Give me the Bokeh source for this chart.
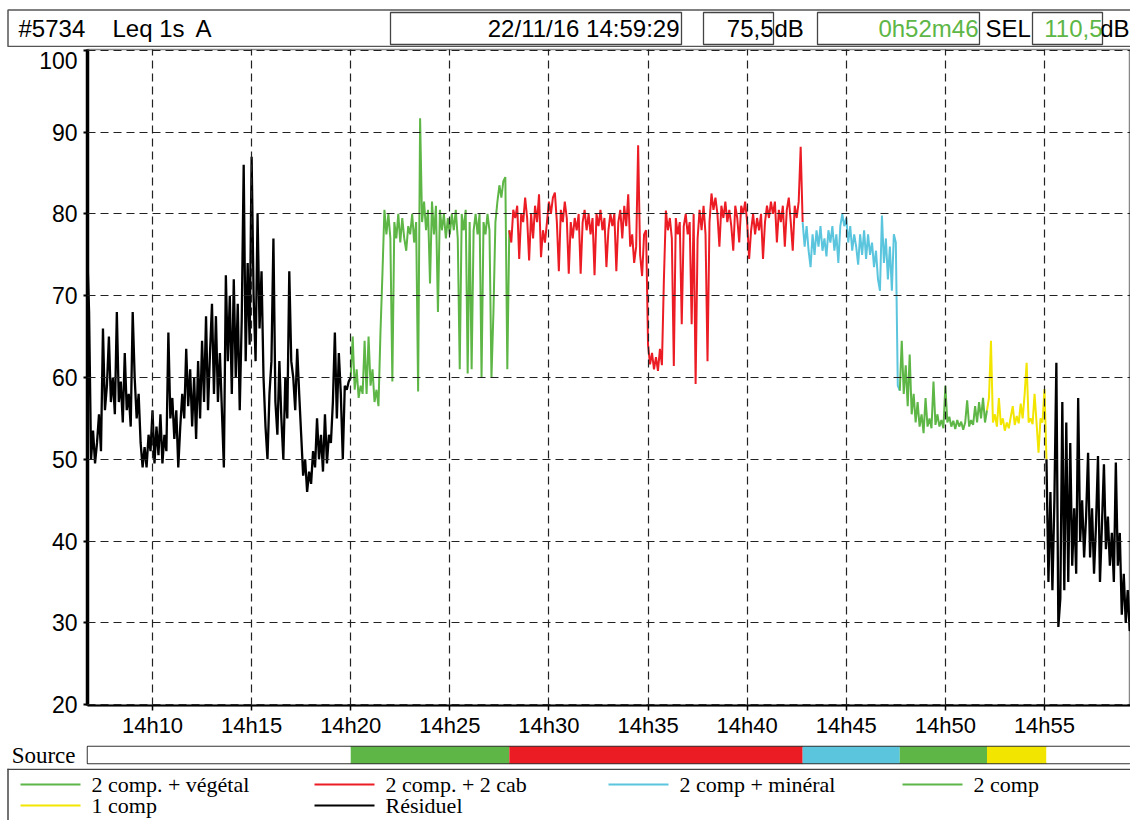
import numpy as np
from bokeh.plotting import figure
from bokeh.layouts import column, row
from bokeh.models import Range1d, FactorRange, FixedTicker
from bokeh.core.properties import value
from bokeh.embed import file_html
from bokeh.resources import INLINE

# ---------------- data ----------------
header_id = "#5734"
header_measure = "Leq 1s"
header_weight = "A"
header_datetime = "22/11/16 14:59:29"
header_level = "75,5"
header_unit = "dB"
header_duration = "0h52m46"
header_sel_label = "SEL"
header_sel = "110,5"

# time in minutes after 14h00
tick_values = [10, 15, 20, 25, 30, 35, 40, 45, 50, 55]
tick_labels = ["14h10", "14h15", "14h20", "14h25", "14h30", "14h35", "14h40", "14h45", "14h50", "14h55"]
y_ticks = [20, 30, 40, 50, 60, 70, 80, 90, 100]

sample_step = 0.1  # minutes between plotted samples

segment_sources = ["Résiduel", "2 comp. + végétal", "2 comp. + 2 cab", "2 comp + minéral",
                   "2 comp", "1 comp", "Résiduel"]
segment_starts = [6.7, 20.0, 28.0, 42.8, 47.7, 52.1, 55.1]

residuel_1 = [76, 68, 50, 53.5, 49.5, 52, 55.5, 51, 66, 56,
              59, 65, 57, 60, 55.5, 68, 57, 59.5, 54.5, 63,
              56, 58, 54, 68, 60, 55, 58, 52, 49, 51.5,
              49, 53, 51, 56, 49.5, 54, 50.5, 55.5, 49.5, 53,
              51, 65.5, 55, 57.5, 52.5, 56, 49, 54, 58, 55,
              63.5, 56.5, 61, 54, 60, 52.5, 62, 55, 64.5, 57,
              67.5, 56, 63, 69, 58, 67.5, 57, 63, 56, 49,
              72.5, 62, 70, 58, 72, 60, 69, 56, 67, 86,
              62, 74, 64, 87, 70, 62, 80, 66, 73, 60,
              54, 50, 58, 62, 77, 57, 53, 62, 55, 50,
              60, 55, 73, 62, 60, 56, 63.5, 58, 53, 48,
              50, 46, 48.5, 47, 51, 49, 55, 50, 53, 48.5,
              55.5, 49.5, 53, 52, 57, 65.5, 55, 63, 58, 50,
              59, 58.5, 59.5, 60]
vegetal = [60, 65, 58.5, 61, 57.5, 59, 58, 64.5, 58, 65,
           59, 61, 57, 58.5, 56.5, 65.5, 72.7, 80.5, 77.5, 80,
           77, 59.5, 79, 77, 80, 76.5, 79.5, 77, 75.5, 78.5,
           77.5, 80, 76.5, 79, 58.3, 91.7, 79, 81.5, 78, 80.5,
           71.5, 81.5, 77.5, 81, 68, 80.5, 78, 80, 77, 79.5,
           77.5, 80, 78, 80.5, 77, 61, 80, 78, 80.5, 60.5,
           79, 61, 78, 80, 77.5, 80, 60, 79, 77.5, 80,
           78, 60, 68, 79, 81.5, 83.5, 82, 84, 84.5, 61,
           78]
deux_cab = [78, 76.5, 80.5, 79.5, 81, 74.5, 80, 79, 82, 79.5,
            74.3, 80, 77, 81, 79, 82.4, 74.7, 78, 76.5, 79,
            81.5, 80, 82, 82.6, 79, 73, 80.5, 79, 81.5, 79.5,
            72.7, 79, 77, 79.5, 78, 80, 72.7, 79, 80.5, 78,
            80, 77.5, 79.5, 72.5, 80, 78.5, 80.5, 78, 79.5, 73.5,
            78, 80, 78.5, 80, 73, 79, 80.5, 77, 81, 78.5,
            82.4, 76, 77.5, 74, 76, 88.4, 75, 72.4, 77.5, 78,
            64, 61.6, 63, 61, 62.5, 60.8, 63.5, 61.5, 72, 80.4,
            78, 79.5, 77, 61.4, 79.5, 77.5, 79, 66.5, 78.5, 80,
            77.5, 79, 66.5, 80, 59.2, 77, 80.5, 78, 81, 77.5,
            62, 79, 82.5, 80.5, 82, 80, 76, 81, 79.5, 81.5,
            79, 80.5, 78.5, 75.5, 81, 79.5, 76.5, 81, 80, 81.5,
            79, 74.5, 78, 80, 77.5, 79.5, 78, 80, 74.5, 79,
            81, 79.5, 81.5, 80, 81.5, 76.5, 80.5, 79, 81, 76,
            80.5, 82, 79, 75.5, 81, 79.5, 81.5, 88.2, 79]
mineral = [79, 76, 78.5, 75.5, 73.5, 77.5, 75, 78, 76, 78.5,
           75.5, 77, 74.8, 78, 76.5, 78.5, 75.5, 77.5, 74, 78.5,
           80, 78.5, 79.5, 76.5, 78.5, 75.5, 77.5, 76, 73.8, 77.5,
           75, 78, 74.5, 77.5, 75, 76.5, 73.5, 75.5, 72, 70.6,
           79.8, 74, 77, 72, 76, 70.6, 77.5, 76.5, 59, 58.4]
deux_comp = [58.4, 64.5, 58, 61.5, 56.5, 62.8, 55.5, 58, 54.5, 57,
             54, 55.5, 53.2, 57.5, 54, 55, 53.8, 59.5, 54.2, 55.5,
             54, 54.8, 53.8, 59, 54.5, 55.2, 54, 54.7, 53.7, 54.8,
             54, 54.6, 53.6, 54.5, 57.2, 54, 54.8, 54.2, 56.5, 54.5,
             57, 55, 57.5, 54.5, 56]
un_comp = [56, 57.5, 64.5, 54.5, 55.5, 54, 57.5, 54.2, 55, 53.5,
           54.5, 53.8, 55.2, 56.5, 54.2, 55.3, 54.4, 56.8, 55, 58,
           61.8, 54.5, 55, 54.3, 58, 54.5, 50.8, 55, 54.5, 58.6,
           50]
residuel_2 = [50, 35, 46, 34, 45, 61.8, 29.5, 33, 57, 34,
              54.5, 35, 52, 37, 44, 36, 57.5, 40, 45, 38,
              43, 50.8, 38, 44, 36, 42, 50.4, 35, 42, 49.4,
              39, 43, 37, 41, 35, 49.6, 37, 41, 31, 36,
              30, 34, 29, 32]
segment_values = [residuel_1, vegetal, deux_cab, mineral, deux_comp, un_comp, residuel_2]

source_colors = {
    "2 comp. + végétal": "#5DB646",
    "2 comp. + 2 cab": "#EC1C24",
    "2 comp + minéral": "#5BC5DE",
    "2 comp": "#5DB646",
    "1 comp": "#F2E500",
    "Résiduel": "#000000",
}
legend_order = ["2 comp. + végétal", "2 comp. + 2 cab", "2 comp + minéral", "2 comp", "1 comp", "Résiduel"]

# ---------------- layout constants ----------------
W = 1130
x_start, x_end = 6.72, 59.34
y_start, y_end = 19.9, 100.1
MAIN_H, MAIN_TOP, MAIN_BOTTOM = 693, 2, 34
SANS = "Liberation Sans"
SERIF = "Liberation Serif"
GREEN_TXT = "#5DB646"
FRAME_LEFT = 87

# ---------------- header ----------------
hdr = figure(width=W, height=47, x_range=Range1d(0, W), y_range=Range1d(47, 0),
             x_axis_type=None, y_axis_type=None, toolbar_location=None,
             output_backend="svg", min_border=0, min_border_left=0, min_border_right=0,
             min_border_top=0, min_border_bottom=0)
hdr.grid.visible = False
hdr.outline_line_color = None
hdr.quad(left=[7.5], right=[W + 2], top=[9.5], bottom=[46], fill_color="white",
         line_color="#555555", line_width=1.5)
hdr.quad(left=[390, 703, 817, 1032], right=[681, 773, 979, 1102],
         top=[12, 12, 12, 12], bottom=[44, 44, 44, 44],
         fill_color="white", line_color="#444444", line_width=1.3)
hdr.text(x=[18, 112, 195], y=[28, 28, 28], text=[header_id, header_measure, header_weight],
         text_font=value(SANS), text_font_size="24px", text_baseline="middle", text_align="left",
         text_color="black")
hdr.text(x=[679, 773, 1129], y=[28, 28, 28], text=[header_datetime, header_level, header_unit],
         text_font=value(SANS), text_font_size="24px", text_baseline="middle", text_align="right",
         text_color="black")
hdr.text(x=[774, 985], y=[28, 28], text=[header_unit, header_sel_label],
         text_font=value(SANS), text_font_size="24px", text_baseline="middle", text_align="left",
         text_color="black")
hdr.text(x=[978, 1102], y=[28, 28], text=[header_duration, header_sel],
         text_font=value(SANS), text_font_size="24px", text_baseline="middle", text_align="right",
         text_color=GREEN_TXT)

# ---------------- main chart ----------------
p = figure(width=W, height=MAIN_H, x_range=Range1d(x_start, x_end), y_range=Range1d(y_start, y_end),
           toolbar_location=None, output_backend="svg",
           min_border_left=FRAME_LEFT, min_border_right=0,
           min_border_top=MAIN_TOP, min_border_bottom=MAIN_BOTTOM)
p.outline_line_color = "#888888"
p.outline_line_width = 1.5

for name, start, vals in zip(segment_sources, segment_starts, segment_values):
    t = start + sample_step * np.arange(len(vals))
    p.line(x=t, y=vals, line_color=source_colors[name],
           line_width=2 if name != "Résiduel" else 2.3)

xt = FixedTicker(ticks=tick_values)
p.xaxis.ticker = xt
p.xgrid.ticker = xt
p.xaxis.major_label_overrides = dict(zip(tick_values, tick_labels))

# y labels: the top one is set just under the frame edge (10 px), as in the reference
px_per_unit = (MAIN_H - MAIN_TOP - MAIN_BOTTOM) / (y_end - y_start)
top_label_pos = round(y_ticks[-1] - 10 / px_per_unit, 3)
label_positions = y_ticks[:-1] + [top_label_pos]
p.yaxis.ticker = FixedTicker(ticks=label_positions, minor_ticks=y_ticks)
p.ygrid.ticker = FixedTicker(ticks=y_ticks)
p.yaxis.major_label_overrides = {top_label_pos: str(y_ticks[-1])}

for g in (p.xgrid, p.ygrid):
    g.grid_line_color = "#222222"
    g.grid_line_dash = "8 5"
    g.grid_line_width = 1.2
    g.level = "overlay"

p.xaxis.axis_line_width = 2
p.xaxis.axis_line_color = "black"
p.xaxis.major_tick_out = 5
p.xaxis.major_tick_in = 0
p.xaxis.major_tick_line_width = 1.5
p.xaxis.minor_tick_line_color = None
p.xaxis.major_label_standoff = 2
p.xaxis.major_label_text_font = SANS
p.xaxis.major_label_text_font_size = "22px"
p.xaxis.major_label_text_color = "black"

p.yaxis.axis_line_width = 3.5
p.yaxis.axis_line_color = "black"
p.yaxis.major_tick_out = 0
p.yaxis.major_tick_in = 0
p.yaxis.major_tick_line_color = None
p.yaxis.minor_tick_out = 4
p.yaxis.minor_tick_in = 0
p.yaxis.minor_tick_line_color = "black"
p.yaxis.minor_tick_line_width = 2
p.yaxis.major_label_standoff = 6
p.yaxis.major_label_text_font = SANS
p.yaxis.major_label_text_font_size = "23px"
p.yaxis.major_label_text_color = "black"

# ---------------- source bar ----------------
src = figure(width=W, height=28, x_range=p.x_range,
             y_range=FactorRange(factors=["Source"], range_padding=0),
             toolbar_location=None, output_backend="svg",
             min_border_left=FRAME_LEFT, min_border_right=0, min_border_top=6, min_border_bottom=5)
seg_ends = segment_starts[1:] + [x_end + 1]
bar_colors = ["white" if s == "Résiduel" else source_colors[s] for s in segment_sources]
src.hbar(y=["Source"] * len(segment_sources), left=segment_starts, right=seg_ends, height=1,
         fill_color=bar_colors, line_color=None)
src.xaxis.visible = False
src.grid.visible = False
src.outline_line_color = "#333333"
src.outline_line_width = 1.5
src.yaxis.axis_line_color = None
src.yaxis.major_tick_line_color = None
src.yaxis.minor_tick_line_color = None
src.yaxis.major_tick_out = 0
src.yaxis.major_tick_in = 0
src.yaxis.major_label_standoff = 12
src.yaxis.major_label_text_font = SERIF
src.yaxis.major_label_text_font_size = "23px"
src.yaxis.major_label_text_color = "black"

# ---------------- legend ----------------
leg = figure(width=W, height=52, x_range=Range1d(0, W), y_range=Range1d(820, 768),
             x_axis_type=None, y_axis_type=None, toolbar_location=None,
             output_backend="svg", min_border=0, min_border_left=0, min_border_right=0,
             min_border_top=0, min_border_bottom=0)
leg.grid.visible = False
leg.outline_line_color = None
leg.segment(x0=[7, 7.5], y0=[768.7, 768], x1=[W, 7.5], y1=[768.7, 820],
            line_color="#444444", line_width=1.5)
sw_x, sw_y, lab_x, colors = [], [], [], []
for i, name in enumerate(legend_order):
    col, rw = i % 4, i // 4
    sw_x.append(20 + 294 * col)
    sw_y.append(784 + 21 * rw)
    lab_x.append(20 + 294 * col + 71)
    colors.append(source_colors[name])
leg.segment(x0=sw_x, y0=sw_y, x1=[x + 60 for x in sw_x], y1=sw_y, line_color=colors, line_width=2)
leg.text(x=lab_x, y=sw_y, text=legend_order, text_font=value(SERIF), text_font_size="22px",
         text_baseline="middle", text_align="left", text_color="black")

layout = column(row(hdr), column(p, src, spacing=0), row(leg), spacing=0)
open("out.html", "w").write(file_html(layout, INLINE))
